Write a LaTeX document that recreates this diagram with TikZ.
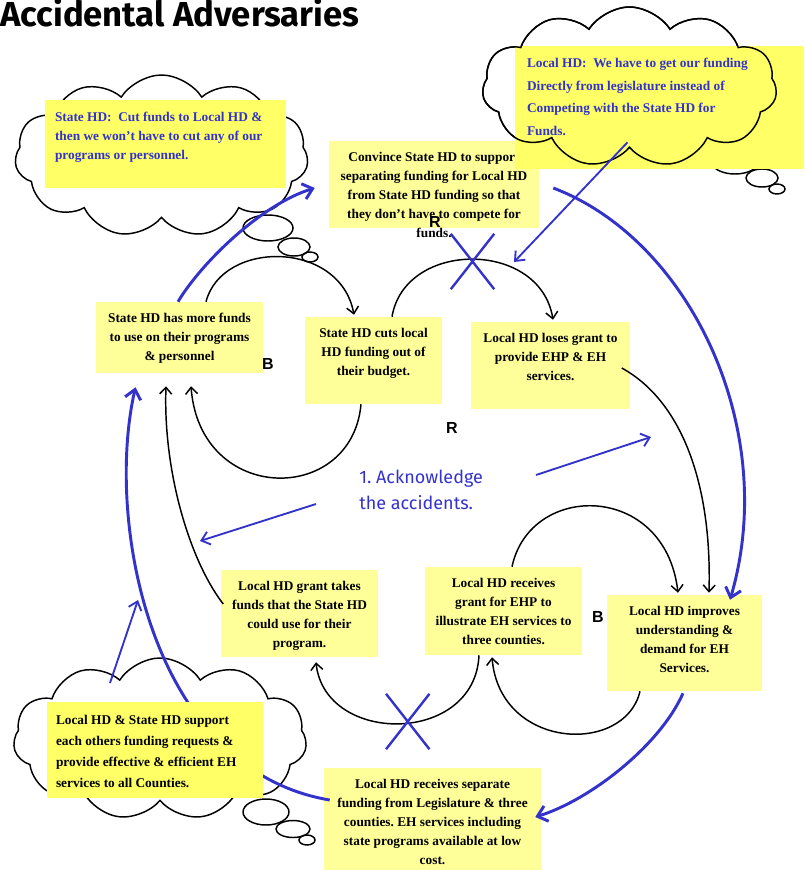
\documentclass[tikz,border=0pt]{standalone}
\usepackage{fontspec}
\setmainfont{Liberation Serif}
\setsansfont{Liberation Sans}
\newfontfamily\handfont{Fira Sans}
\usetikzlibrary{arrows.meta, shapes.symbols, shapes.misc, calc}
\frenchspacing

\definecolor{notey}{RGB}{255,255,153}
\definecolor{cloudy}{RGB}{255,255,102}
\definecolor{penblue}{RGB}{51,51,204}

\tikzset{
  note/.style={fill=notey, inner sep=0pt},
  notetext/.style={font=\bfseries\fontsize{10}{14.25}\selectfont, align=center, anchor=north, inner sep=0pt},
  thought/.style={cloud, cloud puffs=11, cloud puff arc=115, cloud ignores aspect, draw, fill=white, line width=1.1pt, inner sep=0pt},
  bubble/.style={line width=1.1pt},
  idea/.style={fill=cloudy, inner sep=0pt},
  ideatext/.style={font=\bfseries\fontsize{10}{14.25}\selectfont, align=left, anchor=north west, inner sep=0pt},
  link/.style={->, line width=1.1pt},
  fix/.style={-{Straight Barb[length=7pt,width=12pt]}, penblue, line width=2.2pt},
  hint/.style={-{Straight Barb[length=6pt,width=10pt]}, penblue, line width=1.4pt},
  cut/.style={cross out, draw=penblue, line width=1.8pt, inner sep=0pt, minimum width=30.75pt, minimum height=39.75pt},
  looplbl/.style={font=\sffamily\bfseries\fontsize{12}{12}\selectfont, inner sep=0pt},
}

\begin{document}
\begin{tikzpicture}[x=0.75pt, y=-0.75pt, >={Straight Barb[length=5pt,width=9pt]}]
    \useasboundingbox (0,0) rectangle (804,870);

    % Title
    \node[anchor=base west, inner sep=0pt, font=\handfont\bfseries\fontsize{26}{26}\selectfont] (title) at (0,27) {Accidental Adversaries};

    % Thought clouds and their bubbles
    \node[thought, minimum width=220pt, minimum height=121.5pt] (statecloud) at (161.5,156) {};
    \node[thought, minimum width=221pt, minimum height=120pt] (localcloud) at (629.5,87) {};
    \node[thought, minimum width=220pt, minimum height=121.5pt] (jointcloud) at (160,739) {};
    \foreach \bx/\by/\rx/\ry in {268/228/25/13, 294/247/16/9, 310/257/8/5,
                                 735/161/24/13, 762/178/16/9, 777/189/8/5,
                                 266/812/23/13, 293/829/17/8.5, 307/840/8/5}
        \draw[bubble] (\bx,\by) ellipse [x radius=\rx, y radius=\ry];

    % Notes of the loops
    \node[note, minimum width=157.5pt, minimum height=65.25pt] (convince) at (434,184.5) {};
    \node[note, minimum width=125.25pt, minimum height=53.25pt] (morefunds) at (179.5,337.5) {};
    \node[note, minimum width=102.75pt, minimum height=65.25pt] (cutlocal) at (373.5,360.5) {};
    \node[note, minimum width=119.25pt, minimum height=65.25pt] (losegrant) at (550.5,365.5) {};
    \node[note, minimum width=117.75pt, minimum height=65.25pt] (grantfunds) at (299.5,613.5) {};
    \node[note, minimum width=117.75pt, minimum height=66pt] (getgrant) at (503.5,611) {};
    \node[note, minimum width=116.25pt, minimum height=72pt] (demand) at (684.5,643) {};
    \node[note, minimum width=162.75pt, minimum height=76.5pt] (separate) at (432.5,819) {};

    % H -> B line runs behind the joint cloud note
    \draw[fix] ($(separate.west)+(6,-19)$) .. controls +(-180,-30) and +(-30.5,133) .. ($(morefunds.south)+(-44,14)$);
    \coordinate (jointtip) at (138,600);
    \draw[hint] ($(jointcloud.center)+(-50,-56)$) -- (jointtip);

    \node[notetext] (convincetxt) at ($(convince.north)+(0,11)$) {Convince State HD to support\\separating funding for Local HD\\from State HD funding so that\\they don’t have to compete for\\funds.};
    \node[notetext] (morefundstxt) at ($(morefunds.north)+(0,11)$) {State HD has more funds\\to use on their programs\\\& personnel};
    \node[notetext] (cutlocaltxt) at ($(cutlocal.north)+(0,11)$) {State HD cuts local\\HD funding out of\\their budget.};
    \node[notetext] (losegranttxt) at ($(losegrant.north)+(0,11)$) {Local HD loses grant to\\provide EHP \& EH\\services.};
    \node[notetext] (grantfundstxt) at ($(grantfunds.north)+(0,11)$) {Local HD grant takes\\funds that the State HD\\could use for their\\program.};
    \node[notetext] (getgranttxt) at ($(getgrant.north)+(0,11)$) {Local HD receives\\grant for EHP to\\illustrate EH services to\\three counties.};
    \node[notetext] (demandtxt) at ($(demand.north)+(0,11)$) {Local HD improves\\understanding \&\\demand for EH\\Services.};
    \node[notetext] (separatetxt) at ($(separate.north)+(0,11)$) {Local HD receives separate\\funding from Legislature \& three\\counties. EH services including\\state programs available at low\\cost.};

    % Thoughts written in the clouds
    \node[idea, minimum width=180.75pt, minimum height=66pt] (stateidea) at (165.5,144) {};
    \node[ideatext, text=penblue] (stateideatxt) at ($(stateidea.north west)+(10,12)$) {State HD:~ Cut funds to Local HD \&\\then we won’t have to cut any of our\\programs or personnel.};
    \node[idea, minimum width=216.75pt, minimum height=92.25pt] (localidea) at (659.5,107.5) {};
    \node[ideatext, text=penblue, font=\bfseries\fontsize{10}{17}\selectfont] (localideatxt) at ($(localidea.north west)+(12,12)$) {Local HD:~ We have to get our funding\\Directly from legislature instead of\\Competing with the State HD for\\Funds.};
    \node[draw, cloud, cloud puffs=11, cloud puff arc=115, cloud ignores aspect, line width=1.1pt, inner sep=0pt, minimum width=221pt, minimum height=120pt] (localedge) at (localcloud) {};
    \node[idea, minimum width=162pt, minimum height=72pt] (jointidea) at (155,750) {};
    \node[ideatext, font=\bfseries\fontsize{10}{15.75}\selectfont] (jointideatxt) at ($(jointidea.north west)+(9,13)$) {Local HD \& State HD support\\each others funding requests \&\\provide effective \& efficient EH\\services to all Counties.};

    % Causal links
    \draw[link] ($(morefunds.north)+(26.5,0)$) .. controls +(16,-62) and +(-14,-75) .. ($(cutlocal.north)+(-19.5,-2)$);
    \draw[link] ($(cutlocal.south)+(-12.5,0)$) .. controls +(-9,101) and +(9,119) .. ($(morefunds.south)+(11.5,13)$);
    \draw[link] ($(cutlocal.north)+(18.5,0)$) .. controls +(13,-77) and +(-13,-80) .. ($(losegrant.north)+(2.5,-2)$);
    \draw[link] ($(losegrant.east)+(-8.5,2.5)$) .. controls +(58,32) and +(3,-113) .. ($(demand.north)+(24.5,-2)$);
    \draw[link] ($(getgrant.north)+(8.5,0)$) .. controls +(18,-85) and +(-13,-111) .. ($(demand.north)+(-6.5,-2)$);
    \draw[link] ($(demand.south)+(-44.5,0)$) .. controls +(-15,64) and +(8,93) .. ($(getgrant.south)+(-11.5,2)$);
    \draw[link] ($(getgrant.south)+(-24.5,0)$) .. controls +(-4,90) and +(9,83) .. ($(grantfunds.south)+(16.5,5)$);
    \draw[link] ($(grantfunds.west)+(2.5,-9.5)$) .. controls +(-34,-44) and +(-3,84) .. ($(morefunds.south)+(-13.5,13)$);

    % Ways out of the loops
    \draw[fix] ($(morefunds.north)+(-1.5,0)$) .. controls +(22,-37) and +(-55,17) .. ($(convince.west)+(-14,3.5)$);
    \draw[fix] ($(convince.east)+(14,3.5)$) .. controls +(137,52) and +(50,-170) .. ($(demand.north)+(45.5,5)$);
    \draw[fix] ($(demand.south)+(-1.5,2)$) .. controls +(-23,52) and +(55,-17) .. ($(separate.east)+(-6,-2)$);
    \coordinate (losstip) at (514,262);
    \draw[hint] ($(localcloud.south)+(-2,-6)$) -- (losstip);

    % Broken links
    \node[cut] (cutR) at (472.5,261.5) {};
    \node[cut] (cutB) at (407.75,721.5) {};

    % Loop labels
    \node[looplbl] (rtop) at (435,222) {R};
    \node[looplbl] (bleft) at (268,364) {B};
    \node[looplbl] (rmid) at (452,428) {R};
    \node[looplbl] (bright) at (598,617) {B};

    % Lesson
    \node[anchor=north west, inner sep=0pt, align=left, text=penblue, font=\handfont\fontsize{13.5}{19.5}\selectfont] (ack) at (359,470) {1. Acknowledge\\the accidents.};
    \coordinate (ackR) at (651,437);
    \coordinate (ackL) at (200,541);
    \draw[hint] ($(ack.north west)+(177,5)$) -- (ackR);
    \draw[hint] ($(ack.north west)+(-43,34)$) -- (ackL);
\end{tikzpicture}
\end{document}
